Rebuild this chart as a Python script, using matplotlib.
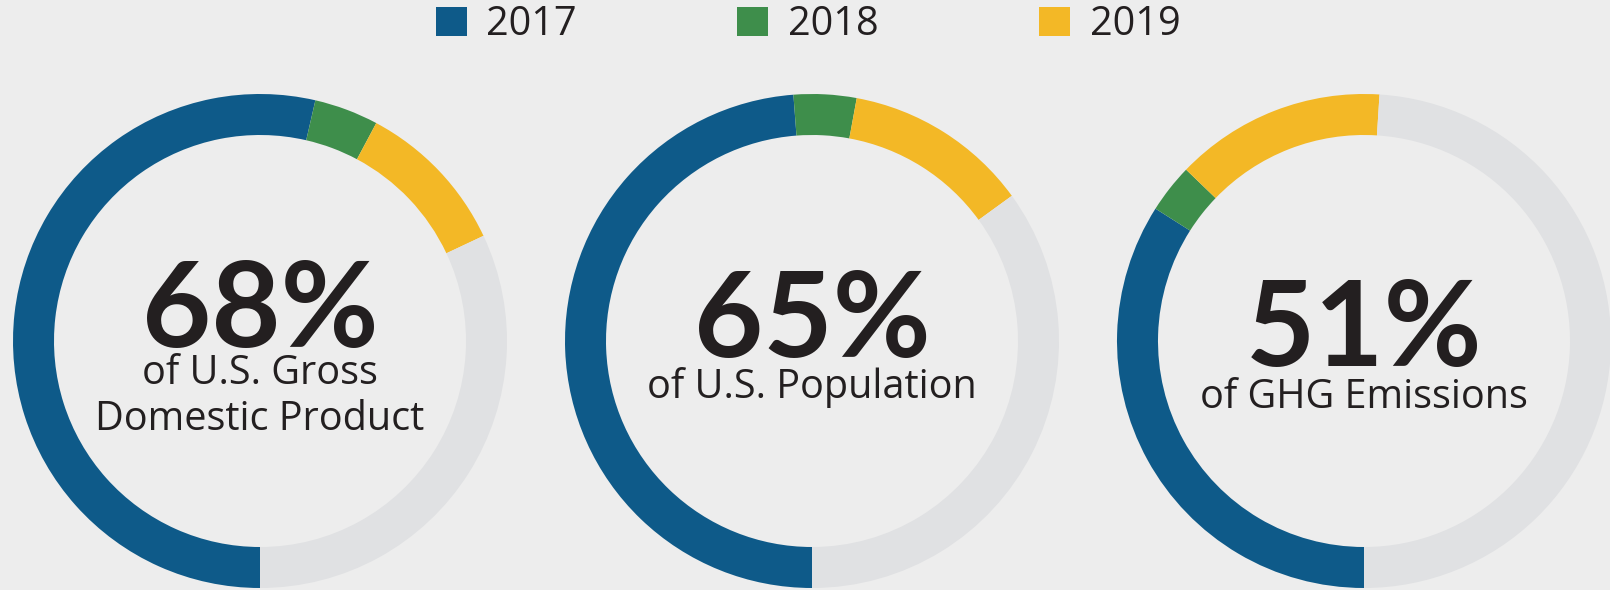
import matplotlib.pyplot as plt
from matplotlib.patches import Patch

# data (percent of circle for each year)
years = ['2017', '2018', '2019']
gdp = [53.6, 4.2, 10.2]
population = [48.8, 4.1, 12.1]
ghg = [34.0, 3.2, 13.8]
big_labels = ['68%', '65%', '51%']
sub_labels = ['of U.S. Gross\nDomestic Product', 'of U.S. Population', 'of GHG Emissions']

colors = ['#0E5A89', '#3E8E4B', '#F3B826']
rest_color = '#E0E1E3'
bg = '#EDEDED'
ink = '#231F20'

W, H = 1610, 590
fig = plt.figure(figsize=(W / 100, H / 100), dpi=100, facecolor=bg)
plt.rcParams['font.family'] = ['Lato', 'DejaVu Sans']
sub_font = ['Open Sans', 'DejaVu Sans']

centers = [260, 812, 1364]
cy = 341
R = 247
ring = 41
big_base = [347, 357, 366]
sub_base = [384, 398, 408]

for i, vals in enumerate([gdp, population, ghg]):
    cx = centers[i]
    ax = fig.add_axes([(cx - R) / W, (H - cy - R) / H, 2 * R / W, 2 * R / H])
    ax.set_facecolor(bg)
    sizes = list(vals) + [100 - sum(vals)]
    ax.pie(sizes, colors=colors + [rest_color], startangle=270, counterclock=False,
           radius=1, wedgeprops=dict(width=ring / R, linewidth=0))
    ax.set_xlim(-1, 1)
    ax.set_ylim(-1, 1)
    ax.axis('off')
    ax.text(0, (cy - big_base[i]) / R, big_labels[i], ha='center', va='baseline',
            fontsize=86, fontweight='bold', color=ink)
    lines = sub_labels[i].split('\n')
    for j, line in enumerate(lines):
        ax.text(0, (cy - (sub_base[i] + 46 * j)) / R, line, ha='center', va='baseline',
                fontsize=28.5, color=ink, family=sub_font)

handles = [Patch(facecolor=c, edgecolor='none') for c in colors]
leg = fig.legend(handles, years, loc='center', bbox_to_anchor=(808 / W, 1 - 25 / H),
                 ncol=3, frameon=False, handlelength=0.78, handleheight=0.75,
                 handletextpad=0.5, columnspacing=4.05, borderpad=0,
                 prop={'family': sub_font, 'size': 28.5})
for t in leg.get_texts():
    t.set_color(ink)

fig.savefig('out.png', dpi=100, facecolor=bg)
